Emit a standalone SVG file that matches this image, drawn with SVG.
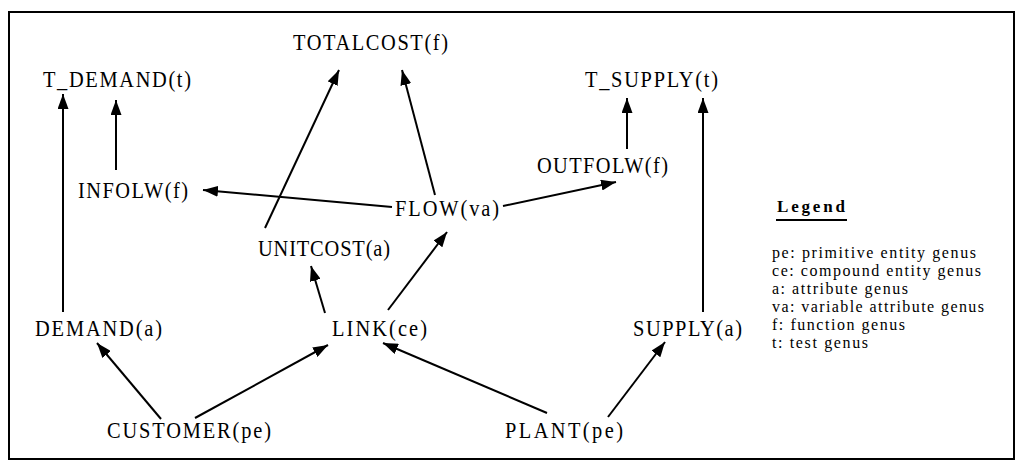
<svg xmlns="http://www.w3.org/2000/svg" width="1018" height="462" viewBox="0 0 1018 462">
<style>
.n{font-family:"Liberation Serif","Times New Roman",serif;font-size:24px;fill:#000}
.lg{font-family:"Liberation Serif","Times New Roman",serif;font-size:16px;fill:#000}
.lh{font-family:"Liberation Serif","Times New Roman",serif;font-size:17px;font-weight:bold;fill:#000}
.c line{stroke:#000;stroke-width:2;marker-end:url(#ah)}
</style>
<defs>
<marker id="ah" markerUnits="userSpaceOnUse" viewBox="0 0 15 11" refX="15" refY="5.5" markerWidth="15" markerHeight="11" orient="auto">
<path d="M0,0 L15,5.5 L0,11 z" fill="#000"/>
</marker>
</defs>
<rect x="0" y="0" width="1018" height="462" fill="#fff"/>
<rect x="9" y="12" width="1005" height="447" fill="none" stroke="#000" stroke-width="2"/>
<g class="c">
<line x1="63" y1="312" x2="63" y2="94"/>
<line x1="116" y1="170" x2="116" y2="100"/>
<line x1="265" y1="228" x2="339" y2="70"/>
<line x1="435" y1="195" x2="402" y2="70"/>
<line x1="392" y1="207" x2="203" y2="190"/>
<line x1="503" y1="206" x2="616" y2="182"/>
<line x1="627" y1="149" x2="627" y2="98"/>
<line x1="703" y1="312" x2="703" y2="98"/>
<line x1="325" y1="313" x2="311" y2="266"/>
<line x1="388" y1="310" x2="447" y2="232"/>
<line x1="161" y1="419" x2="97" y2="343"/>
<line x1="195" y1="418" x2="328" y2="345"/>
<line x1="547" y1="413" x2="383" y2="343"/>
<line x1="608" y1="417" x2="665" y2="342"/>
</g>
<g id="totalcost" transform="translate(293,50) scale(0.85,1)"><text class="n" textLength="182.4" lengthAdjust="spacing">TOTALCOST(f)</text></g>
<g id="t_demand" transform="translate(43,87) scale(0.85,1)"><text class="n" textLength="174.1" lengthAdjust="spacing">T_DEMAND(t)</text></g>
<g id="t_supply" transform="translate(585,87) scale(0.85,1)"><text class="n" textLength="156.5" lengthAdjust="spacing">T_SUPPLY(t)</text></g>
<g id="infolw" transform="translate(78,198) scale(0.85,1)"><text class="n" textLength="129.4" lengthAdjust="spacing">INFOLW(f)</text></g>
<g id="flow" transform="translate(395,216) scale(0.85,1)"><text class="n" textLength="122.4" lengthAdjust="spacing">FLOW(va)</text></g>
<g id="outfolw" transform="translate(537,173) scale(0.85,1)"><text class="n" textLength="154.1" lengthAdjust="spacing">OUTFOLW(f)</text></g>
<g id="unitcost" transform="translate(258,256) scale(0.85,1)"><text class="n" textLength="155.3" lengthAdjust="spacing">UNITCOST(a)</text></g>
<g id="demand" transform="translate(35,336) scale(0.85,1)"><text class="n" textLength="149.4" lengthAdjust="spacing">DEMAND(a)</text></g>
<g id="link" transform="translate(332,336) scale(0.85,1)"><text class="n" textLength="111.8" lengthAdjust="spacing">LINK(ce)</text></g>
<g id="supply" transform="translate(633,336) scale(0.85,1)"><text class="n" textLength="128.2" lengthAdjust="spacing">SUPPLY(a)</text></g>
<g id="customer" transform="translate(107,438) scale(0.85,1)"><text class="n" textLength="192.9" lengthAdjust="spacing">CUSTOMER(pe)</text></g>
<g id="plant" transform="translate(505,438) scale(0.85,1)"><text class="n" textLength="138.8" lengthAdjust="spacing">PLANT(pe)</text></g>
<g id="legend">
<text class="lh" x="777" y="212" textLength="68" lengthAdjust="spacing">Legend</text>
<line x1="776" y1="220" x2="847" y2="220" stroke="#000" stroke-width="2"/>
<text class="lg" x="772" y="258" textLength="204" lengthAdjust="spacing">pe: primitive entity genus</text>
<text class="lg" x="772" y="276" textLength="209" lengthAdjust="spacing">ce: compound entity genus</text>
<text class="lg" x="772" y="294" textLength="136" lengthAdjust="spacing">a: attribute genus</text>
<text class="lg" x="772" y="312" textLength="212" lengthAdjust="spacing">va: variable attribute genus</text>
<text class="lg" x="772" y="330" textLength="133" lengthAdjust="spacing">f: function genus</text>
<text class="lg" x="772" y="348" textLength="96" lengthAdjust="spacing">t: test genus</text>
</g>
</svg>
